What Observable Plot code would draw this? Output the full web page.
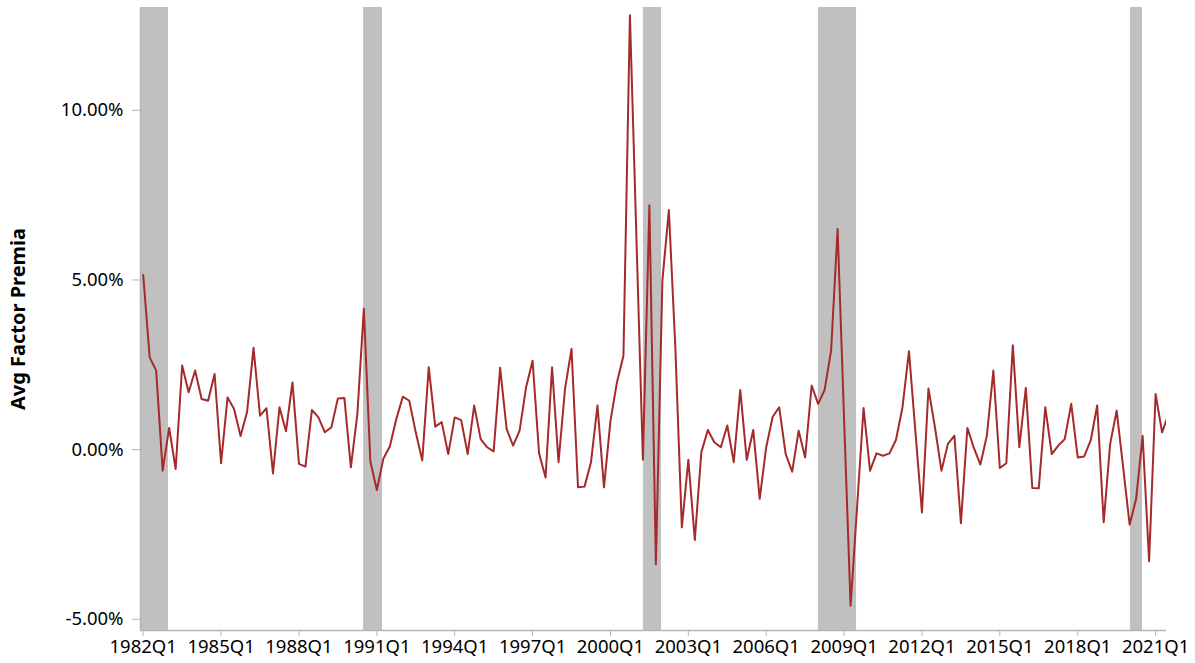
<!DOCTYPE html>
<html>
<head>
<meta charset="utf-8">
<script src="https://cdn.jsdelivr.net/npm/d3@7"></script>
<script src="https://cdn.jsdelivr.net/npm/@observablehq/plot@0.6"></script>
<style>
  html, body { margin: 0; padding: 0; background: #fff; }
  #chart svg { display: block; }
</style>
</head>
<body>
<div id="chart"></div>
<script>
// ---- data ----
const startYear = 1982; // first observation: 1982Q1, quarterly
const premia = [
  5.15, 2.72, 2.33, -0.62, 0.64, -0.57, 2.48, 1.69, 2.33, 1.49,
  1.44, 2.23, -0.40, 1.54, 1.20, 0.40, 1.10, 3.00, 1.00, 1.22,
  -0.70, 1.25, 0.54, 1.98, -0.42, -0.50, 1.17, 0.95, 0.51, 0.66,
  1.51, 1.52, -0.52, 1.05, 4.15, -0.34, -1.19, -0.27, 0.09, 0.90,
  1.56, 1.44, 0.51, -0.32, 2.43, 0.68, 0.81, -0.13, 0.95, 0.87,
  -0.13, 1.30, 0.31, 0.07, -0.05, 2.41, 0.61, 0.12, 0.56, 1.84,
  2.62, -0.11, -0.82, 2.43, -0.37, 1.79, 2.97, -1.11, -1.09, -0.37,
  1.30, -1.11, 0.85, 1.98, 2.77, 12.80, 6.25, -0.30, 7.20, -3.38,
  4.98, 7.06, 3.00, -2.29, -0.30, -2.66, -0.08, 0.58, 0.22, 0.07,
  0.71, -0.37, 1.76, -0.30, 0.58, -1.45, 0.07, 0.97, 1.25, -0.13,
  -0.65, 0.56, -0.23, 1.89, 1.35, 1.76, 2.92, 6.50, 0.90, -4.60,
  -1.70, 1.23, -0.62, -0.11, -0.18, -0.11, 0.29, 1.25, 2.90, 0.50,
  -1.85, 1.80, 0.66, -0.62, 0.17, 0.41, -2.17, 0.64, 0.05, -0.44,
  0.41, 2.33, -0.54, -0.40, 3.08, 0.07, 1.82, -1.13, -1.14, 1.25,
  -0.13, 0.12, 0.31, 1.35, -0.23, -0.20, 0.27, 1.30, -2.14, 0.17,
  1.15, -0.52, -2.21, -1.45, 0.41, -3.29, 1.64, 0.51, 1.05
];
// recession periods (decimal years)
const recStart = [1981.5, 1990.49, 2001.27, 2008.01, 2020.03];
const recEnd   = [1982.975, 1991.22, 2001.965, 2009.48, 2020.495];
// axis ticks
const xTickYears = [1982, 1985, 1988, 1991, 1994, 1997, 2000, 2003, 2006, 2009, 2012, 2015, 2018, 2021];
const yTicks = [-5, 0, 5, 10];
const yLabel = "Avg Factor Premia";

// ---- build tables ----
const series = premia.map((v, i) => ({t: startYear + i / 4, v}));
const recessions = recStart.map((s, i) => ({start: s, end: recEnd[i]}));

const xDomain = [1981.896, 2021.42];
const yDomain = [-5.33, 13.03];

const chart = Plot.plot({
  width: 1195,
  height: 663,
  marginLeft: 140,
  marginRight: 29,
  marginTop: 7,
  marginBottom: 33,
  style: {fontFamily: "'Noto Sans', sans-serif", fontSize: "18.5px", color: "#000", background: "#fff"},
  x: {type: "linear", domain: xDomain},
  y: {domain: yDomain},
  marks: [
    Plot.rect(recessions, {x1: "start", x2: "end", fill: "#c0c0c0", clip: true}),
    Plot.ruleX([xDomain[0]], {stroke: "#b5b5b5", strokeWidth: 1.5}),
    Plot.ruleY([yDomain[0]], {stroke: "#b5b5b5", strokeWidth: 1.5}),
    Plot.axisX({ticks: xTickYears, tickFormat: d => `${d}Q1`, tickSize: 6, tickPadding: 3, stroke: "#b5b5b5", label: null, fontSize: 18.5}),
    Plot.axisY({ticks: yTicks, tickFormat: d => d.toFixed(2) + "%", tickSize: 8, tickPadding: 9, stroke: "#b5b5b5", label: null, fontSize: 18.5}),
    Plot.text([yLabel], {frameAnchor: "left", textAnchor: "middle", rotate: -90, dx: -122, fontWeight: "bold", fontSize: 20, fill: "#000"}),
    Plot.line(series, {x: "t", y: "v", stroke: "#a52a2a", strokeWidth: 2, clip: true})
  ]
});
document.getElementById("chart").appendChild(chart);
</script>
</body>
</html>
